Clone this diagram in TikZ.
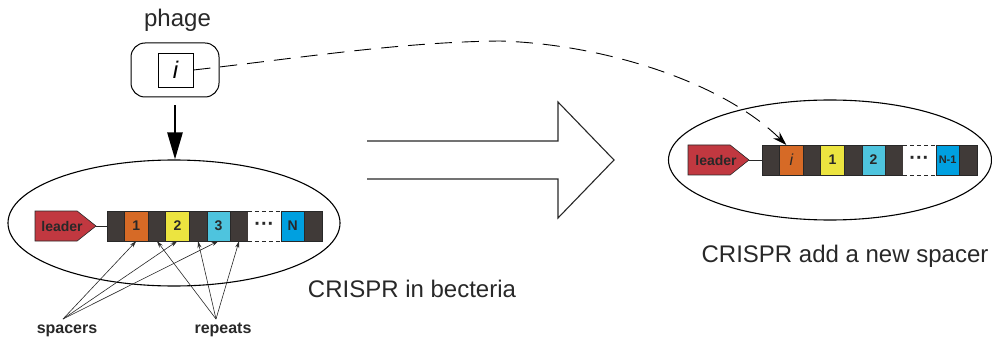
\documentclass[tikz,border=0pt]{standalone}
\usepackage{fontspec}
\setmainfont{Liberation Sans}
\usetikzlibrary{positioning,shapes.geometric,shapes.symbols,arrows.meta}

\definecolor{leaderred}{RGB}{193,56,64}
\definecolor{repeatgray}{RGB}{64,58,56}
\definecolor{sporange}{RGB}{214,106,38}
\definecolor{spyellow}{RGB}{236,228,64}
\definecolor{spcyan}{RGB}{78,196,222}
\definecolor{spblue}{RGB}{0,160,224}
\definecolor{inkgray}{RGB}{40,40,40}

\begin{document}
\begin{tikzpicture}[x=1pt,y=-1pt,
    crisprcell/.style={draw=inkgray,line width=0.6pt,minimum height=30pt,inner sep=0pt,outer sep=0pt,
        font=\fontsize{14}{14}\selectfont\bfseries,text=inkgray},
    repeatcell/.style={crisprcell,fill=repeatgray,minimum width=17.6pt},
    spacercell/.style={crisprcell,fill=#1,minimum width=23.5pt},
    gapcell/.style={crisprcell,draw=none,fill=white,minimum width=33pt,font=\fontsize{20}{20}\selectfont\bfseries},
    gapline/.style={inkgray,line width=0.6pt,dash pattern=on 4pt off 3pt},
    leaderbox/.style={signal,signal to=east,signal pointer angle=77,fill=leaderred,draw=inkgray,
        line width=0.6pt,minimum height=30pt,minimum width=61pt,inner sep=0pt,outer sep=0pt,anchor=east},
    leadertext/.style={font=\fontsize{14}{14}\selectfont\bfseries,text=inkgray,inner sep=0pt},
    oval/.style={draw,ellipse,line width=1.1pt,inner sep=0pt},
    biglbl/.style={font=\fontsize{24}{24}\selectfont,text=inkgray,anchor=base},
    taglbl/.style={font=\fontsize{16}{16}\selectfont\bfseries,text=inkgray,anchor=base},
    markarrow/.style={-{Stealth[length=7pt,width=4pt]},line width=0.6pt,inkgray}]
    \useasboundingbox (0,0) rectangle (992,339);

    % phage
    \node[biglbl] (phagelbl) at (177.5,27) {phage};
    \node[draw,rounded corners=14pt,minimum width=88pt,minimum height=54pt,line width=1pt] (phage) at (175,70) {};
    \node[draw,minimum width=35pt,minimum height=34pt,inner sep=0pt,line width=0.8pt,
        font=\fontsize{24}{24}\selectfont\itshape] (ibox) at (175.5,70) {i};

    % CRISPR in becteria
    \node[oval,minimum width=332pt,minimum height=126pt] (cell) at (174,223) {};
    \draw[-{Triangle[length=27pt,width=15pt]},line width=2.6pt] ([yshift=-8pt]phage.south) -- (phage.south |- cell.north);
    \node[leaderbox] (lead1) at (96,226) {};
    \node[leadertext] at ([xshift=-34pt]lead1.east) {leader};
    \node[repeatcell,anchor=west] (r10) at (107,226) {};
    \node[spacercell=sporange,right=0pt of r10] (s1) {1};
    \node[repeatcell,right=0pt of s1] (r11) {};
    \node[spacercell=spyellow,right=0pt of r11] (s2) {2};
    \node[repeatcell,right=0pt of s2] (r12) {};
    \node[spacercell=spcyan,right=0pt of r12] (s3) {3};
    \node[repeatcell,right=0pt of s3] (r13) {};
    \node[gapcell,right=0pt of r13] (dots1) {···};
    \node[spacercell=spblue,right=0pt of dots1] (sN) {N};
    \node[repeatcell,right=0pt of sN] (r14) {};
    \draw[gapline] (dots1.north west) -- (dots1.north east);
    \draw[gapline] (dots1.south west) -- (dots1.south east);
    \draw[inkgray,line width=0.8pt] (lead1.east) -- (r10.west);

    \node[taglbl] (spacers) at (67,333) {spacers};
    \node[taglbl] (repeats) at (223,333) {repeats};
    \coordinate (sp) at (63,319);
    \coordinate (rp) at (216,319);
    \foreach \s in {s1,s2,s3} \draw[markarrow] (sp) -- (\s.south);
    \foreach \r in {r11,r12,r13} \draw[markarrow] (rp) -- (\r.south);
    \node[biglbl] (lbl1) at (412,297) {CRISPR in becteria};

    % big hollow arrow
    \draw[line width=1.1pt,inkgray,fill=white,line join=miter]
        (367,141) -- (558,141) -- (558,102) -- (614,160) -- (558,218) -- (558,179) -- (367,179);

    % CRISPR with the new spacer
    \node[oval,minimum width=323pt,minimum height=120pt] (cell2) at (830,160) {};
    \node[leaderbox] (lead2) at (749,160) {};
    \node[leadertext] at ([xshift=-33pt]lead2.east) {leader};
    \node[repeatcell,anchor=west] (r20) at (762,160) {};
    \node[spacercell=sporange,right=0pt of r20,font=\fontsize{16}{16}\selectfont\itshape] (si) {i};
    \node[repeatcell,right=0pt of si] (r21) {};
    \node[spacercell=spyellow,right=0pt of r21] (t1) {1};
    \node[repeatcell,right=0pt of t1] (r22) {};
    \node[spacercell=spcyan,right=0pt of r22] (t2) {2};
    \node[repeatcell,right=0pt of t2] (r23) {};
    \node[gapcell,right=0pt of r23] (dots2) {···};
    \node[spacercell=spblue,right=0pt of dots2,font=\fontsize{11}{11}\selectfont\bfseries] (tN) {N-1};
    \node[repeatcell,right=0pt of tN] (r24) {};
    \draw[gapline] (dots2.north west) -- (dots2.north east);
    \draw[gapline] (dots2.south west) -- (dots2.south east);
    \draw[inkgray,line width=0.8pt] (lead2.east) -- (r20.west);
    \node[biglbl] (lbl2) at (845,262) {CRISPR add a new spacer};

    % spacer i taken from the phage
    \coordinate (crest) at (500,41);
    \draw[-{Stealth[length=14pt,width=9pt]},line width=0.9pt,dash pattern=on 17pt off 10pt]
        (ibox.east) .. controls (300,58) and (400,42) .. (crest)
        .. controls (600,44) and (720,80) .. ([xshift=-5pt]si.north);
\end{tikzpicture}
\end{document}
